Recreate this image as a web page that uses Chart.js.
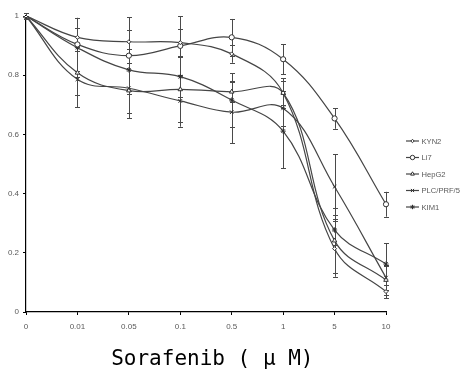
<!DOCTYPE html>
<html>
<head>
<meta charset="utf-8">
<script src="https://cdn.jsdelivr.net/npm/chart.js@4.4.0/dist/chart.umd.min.js"></script>
<style>
html,body{margin:0;padding:0;background:#fff;}
#wrap{width:462px;height:374px;}
</style>
</head>
<body>
<div id="wrap"><canvas id="c" width="462" height="374"></canvas></div>
<script>
// ---- data ----
const categories = ['0', '0.01', '0.05', '0.1', '0.5', '1', '5', '10'];
const seriesNames = ['KYN2', 'Li7', 'HepG2', 'PLC/PRF/5', 'KIM1'];
const kyn2  = [1, 0.928, 0.913, 0.910, 0.872, 0.740, 0.214, 0.069];
const li7   = [1, 0.904, 0.866, 0.899, 0.928, 0.854, 0.654, 0.364];
const hepg2 = [1, 0.808, 0.748, 0.752, 0.744, 0.740, 0.241, 0.108];
const plc   = [1, 0.786, 0.756, 0.713, 0.675, 0.688, 0.423, 0.116];
const kim1  = [1, 0.893, 0.818, 0.795, 0.716, 0.611, 0.277, 0.162];
const kyn2Err  = [0.01, 0.030, 0.040, 0.045, 0.030, 0.040, 0.095, 0.023];
const li7Err   = [0.01, 0.090, 0.130, 0.100, 0.062, 0.050, 0.035, 0.042];
const hepg2Err = [0.01, 0.075, 0.093, 0.110, 0.034, 0.050, 0.110, 0.050];
const plcErr   = [0.01, 0.095, 0.085, 0.087, 0.105, 0.060, 0.110, 0.040];
const kim1Err  = [0.01, 0.100, 0.070, 0.070, 0.090, 0.125, 0.050, 0.070];
const yTicks = [0, 0.2, 0.4, 0.6, 0.8, 1];
const yTickLabels = ['0', '0.2', '0.4', '0.6', '0.8', '1'];
const xTitle = ' Sorafenib ( \u03bc M)';

const seriesValues = [kyn2, li7, hepg2, plc, kim1];
const seriesErrors = [kyn2Err, li7Err, hepg2Err, plcErr, kim1Err];
const markerStyles = ['rectRot', 'circle', 'triangle', 'crossRot', 'star'];
const markerSizes = [2, 2.6, 2.6, 2.6, 2.6];
const lineColor = '#454545';

const datasets = seriesNames.map((name, i) => ({
  label: name,
  data: seriesValues[i],
  errors: seriesErrors[i],
  borderColor: lineColor,
  backgroundColor: '#ffffff',
  borderWidth: 1.2,
  pointStyle: markerStyles[i],
  pointRadius: markerSizes[i],
  pointBorderWidth: 1,
  pointBorderColor: '#303030',
  pointBackgroundColor: '#ffffff',
  tension: 0.4,
  fill: false
}));

const errorBarPlugin = {
  id: 'errorBars',
  beforeDatasetsDraw(chart) {
    const ctx = chart.ctx;
    const ys = chart.scales.y;
    ctx.save();
    ctx.strokeStyle = '#4a4a4a';
    ctx.lineWidth = 1;
    chart.data.datasets.forEach((ds, di) => {
      const meta = chart.getDatasetMeta(di);
      meta.data.forEach((pt, i) => {
        const v = ds.data[i], e = ds.errors[i];
        const x = Math.round(pt.x) + 0.5;
        const yT = ys.getPixelForValue(v + e);
        const yB = ys.getPixelForValue(v - e);
        ctx.beginPath();
        ctx.moveTo(x, yT); ctx.lineTo(x, yB);
        ctx.moveTo(x - 2.5, Math.round(yT) + 0.5); ctx.lineTo(x + 2.5, Math.round(yT) + 0.5);
        ctx.moveTo(x - 2.5, Math.round(yB) + 0.5); ctx.lineTo(x + 2.5, Math.round(yB) + 0.5);
        ctx.stroke();
      });
    });
    ctx.restore();
  }
};

const legendPlugin = {
  id: 'excelLegend',
  afterDraw(chart) {
    const ctx = chart.ctx;
    const x0 = chart.chartArea.right + 20;
    const y0 = 141;
    const gap = 16.5;
    ctx.save();
    chart.data.datasets.forEach((ds, i) => {
      const y = y0 + i * gap;
      ctx.strokeStyle = lineColor;
      ctx.lineWidth = 1.2;
      ctx.beginPath();
      ctx.moveTo(x0, y); ctx.lineTo(x0 + 13, y);
      ctx.stroke();
      ctx.lineWidth = 1;
      ctx.strokeStyle = '#303030';
      ctx.fillStyle = '#ffffff';
      Chart.helpers.drawPoint(ctx, {pointStyle: ds.pointStyle, radius: ds.pointRadius * 0.85, borderWidth: 1, rotation: 0}, x0 + 6.5, y);
      ctx.fillStyle = '#595959';
      ctx.font = '7.6px "Liberation Sans", Arial, sans-serif';
      ctx.textBaseline = 'middle';
      ctx.textAlign = 'left';
      ctx.fillText(ds.label, x0 + 15.5, y + 0.5);
    });
    ctx.restore();
  }
};

new Chart(document.getElementById('c'), {
  type: 'line',
  data: { labels: categories, datasets },
  options: {
    responsive: false,
    animation: false,
    layout: { padding: { left: 0, right: 76, top: 16, bottom: 0 } },
    plugins: { legend: { display: false }, tooltip: { enabled: false } },
    scales: {
      x: {
        type: 'category',
        offset: false,
        grid: { display: true, drawOnChartArea: false, drawTicks: true, tickLength: 3, color: '#000' },
        border: { display: true, color: '#000', width: 1.2 },
        ticks: { color: '#595959', font: { size: 8, family: '"Liberation Sans", Arial, sans-serif' }, padding: 7, maxRotation: 0, autoSkip: false },
        title: { display: true, text: xTitle, color: '#000', font: { size: 21, family: '"DejaVu Sans Mono", monospace' }, padding: { top: 0, bottom: 2 } },
        afterFit(s) { s.height = 62; }
      },
      y: {
        min: 0, max: 1,
        afterBuildTicks(s) { s.ticks = yTicks.map(v => ({ value: v })); },
        grid: { display: true, drawOnChartArea: false, drawTicks: true, tickLength: 3, color: '#000' },
        border: { display: true, color: '#000', width: 1.2 },
        ticks: {
          color: '#595959', font: { size: 8, family: '"Liberation Sans", Arial, sans-serif' }, padding: 4,
          callback(v) { const k = yTicks.indexOf(v); return k >= 0 ? yTickLabels[k] : ''; }
        },
        afterFit(s) { s.width = 26; }
      }
    }
  },
  plugins: [errorBarPlugin, legendPlugin]
});
</script>
</body>
</html>
